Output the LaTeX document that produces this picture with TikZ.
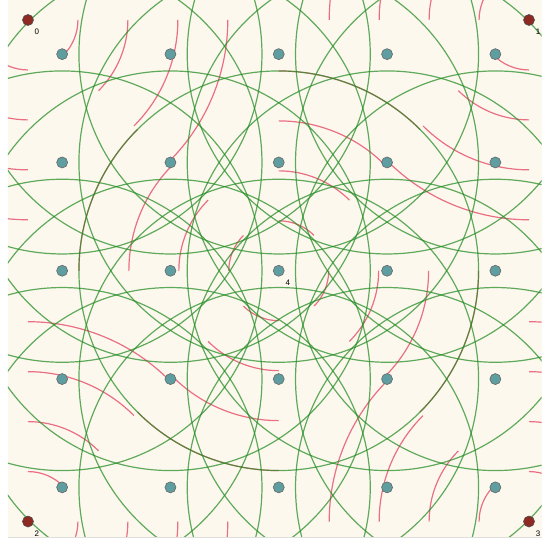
\documentclass[tikz,border=0pt]{standalone}
\usepackage{fontspec}
\setsansfont{Liberation Sans}
\usetikzlibrary{calc}

\definecolor{paper}{HTML}{FDF8EE}
\definecolor{ringgreen}{HTML}{228B22}
\definecolor{sweeppink}{HTML}{DC143C}
\definecolor{gridteal}{HTML}{5F9EA0}
\definecolor{pinred}{HTML}{8E2A22}

\tikzset{
  ring/.style={draw=ringgreen, draw opacity=0.72, line width=1.2pt},
  sweep/.style={draw=sweeppink, draw opacity=0.6, line width=1.2pt},
  gridpt/.style={circle, fill=gridteal, draw=gray!80!black, line width=0.6pt,
    minimum size=11pt, inner sep=0pt},
  pin/.style={circle, fill=pinred, draw=gray!60!black, line width=0.6pt,
    minimum size=11pt, inner sep=0pt},
  pinlabel/.style={font=\sffamily\fontsize{8}{8}\selectfont, inner sep=0pt}
}

\begin{document}
\begin{tikzpicture}[x=1pt, y=-1pt]

  % page and canvas
  \fill[white] (0,0) rectangle (542,541);
  \fill[paper] (8,0) rectangle (542,537);
  \draw[gray!25, line width=1pt] (8,537.5) -- (542,537.5);
  \useasboundingbox (0,0) rectangle (542,541);

  % labelled points
  \coordinate (c0) at (28,20);
  \coordinate (c1) at (529.5,20);
  \coordinate (c2) at (28,522);
  \coordinate (c3) at (529.5,522);
  \coordinate (c4) at (279,271);

  % grid centres
  \foreach \i in {0,...,4}
    \foreach \j in {0,...,4}
      \coordinate (g\i\j) at ({62.2+108.4*\i},{54.2+108.4*\j});

  \begin{scope}
    \clip (8,0) rectangle (542,537);
    % quarter sweeps round the labelled points
    \foreach \p in {c0,c1,c2,c3,c4}
      \foreach \a in {0,90,180,270}
        \foreach \r in {50,100,150,200}
          \draw[sweep] (\p) ++(\a:\r) arc[start angle=\a, delta angle=45, radius=\r];
    % rings round the grid centres
    \foreach \i in {0,...,4}
      \foreach \j in {0,...,4}
        \draw[ring] (g\i\j) circle[radius=200];
  \end{scope}

  % dots
  \foreach \i in {0,...,4}
    \foreach \j in {0,...,4}
      \node[gridpt] (d\i\j) at (g\i\j) {};
  \foreach \k in {0,1,2,3}
    \node[pin] (p\k) at (c\k) {};

  % labels
  \foreach \k in {0,...,4}
    \node[pinlabel] (l\k) at ($(c\k)+(9,12)$) {\k};

\end{tikzpicture}
\end{document}
